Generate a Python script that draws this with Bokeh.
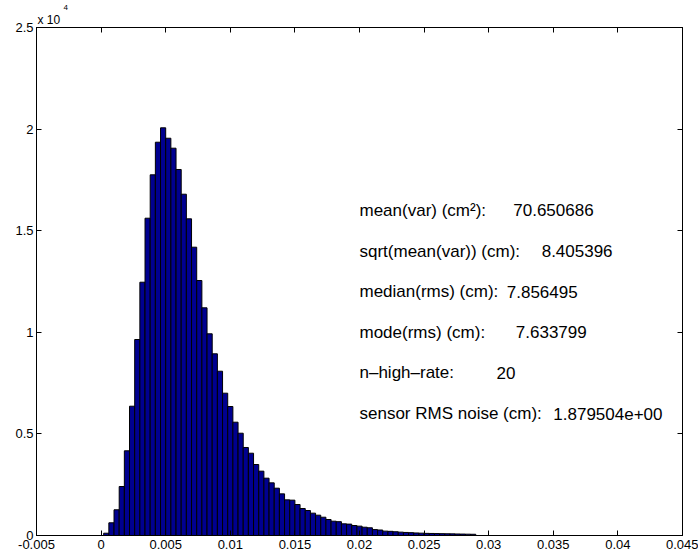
from bokeh.plotting import figure
from bokeh.models import Range1d, LinearAxis, FixedTicker, Label, ColumnDataSource, Title
from bokeh.embed import file_html
from bokeh.resources import INLINE

# ---------------- data ----------------
bin_width = 0.0004
first_center = 0.0004
counts = [
    113, 625, 1265, 2411, 4168, 6363, 9645, 12465, 15615, 17750,
    19355, 20063, 19551, 19060, 18012, 16796, 15585, 14188, 12549, 11205,
    9926, 8942, 8085, 7003, 6348, 5576, 5034, 4331, 4050, 3494,
    3166, 2821, 2592, 2329, 2050, 1755, 1740, 1525, 1329, 1230,
    1099, 1000, 900, 787, 704, 680, 575, 560, 492, 460,
    408, 380, 290, 270, 215, 205, 185, 165, 150, 140,
    125, 115, 105, 100, 95, 90, 85, 80, 75, 70,
    65, 60,
]
bin_centers = [round(first_center + i * bin_width, 6) for i in range(len(counts))]

x_ticks = [-0.005, 0.0, 0.005, 0.01, 0.015, 0.02, 0.025, 0.03, 0.035, 0.04, 0.045]
x_tick_labels = ["-0.005", "0", "0.005", "0.01", "0.015", "0.02", "0.025",
                 "0.03", "0.035", "0.04", "0.045"]
y_ticks = [0, 5000, 10000, 15000, 20000, 25000]
y_tick_labels = ["0", "0.5", "1", "1.5", "2", "2.5"]
y_multiplier_base = "x 10"
y_multiplier_exp = "4"

stat_labels = ["mean(var) (cm\u00b2):", "sqrt(mean(var)) (cm):", "median(rms) (cm):",
               "mode(rms) (cm):", "n\u2013high\u2013rate:", "sensor RMS noise (cm):"]
stat_values = ["70.650686", "8.405396", "7.856495", "7.633799", "20", "1.879504e+00"]
stat_y = [16000, 14000, 12000, 10000, 8000, 6000]
stat_value_x = [0.0319, 0.0341, 0.0314, 0.0321, 0.0306, 0.0350]
stat_label_x = 0.02

FONT = "Liberation Sans"

# ---------------- figure ----------------
p = figure(width=698, height=556, title=None,
           x_range=Range1d(-0.005, 0.045), y_range=Range1d(0, 25000),
           output_backend="svg", toolbar_location=None,
           min_border_left=36, min_border_right=16, min_border_top=27,
           min_border_bottom=21)
p.background_fill_color = "white"
p.border_fill_color = "white"
p.outline_line_color = "black"
p.outline_line_width = 1
p.xgrid.visible = False
p.ygrid.visible = False

src = ColumnDataSource(dict(x=bin_centers, top=counts))
p.vbar(x="x", top="top", bottom=0, width=bin_width, source=src,
       fill_color="#000090", line_color="black", line_width=1)

def style_axis(ax, ticks, labels, show_labels=True, standoff=4):
    ax.ticker = FixedTicker(ticks=ticks)
    ax.major_tick_in = 5
    ax.major_tick_out = 0
    ax.minor_tick_line_color = None
    ax.axis_line_color = "black"
    ax.major_tick_line_color = "black"
    if show_labels:
        ax.major_label_overrides = {t: l for t, l in zip(ticks, labels)}
        ax.major_label_text_font = FONT
        ax.major_label_text_font_size = "13px"
        ax.major_label_text_color = "black"
        ax.major_label_standoff = standoff
    else:
        ax.major_label_text_color = None
        ax.major_label_text_alpha = 0
        ax.major_label_text_font_size = "1px"
        ax.major_label_standoff = 0

style_axis(p.xaxis[0], x_ticks, x_tick_labels, True, 4)
style_axis(p.yaxis[0], y_ticks, y_tick_labels, True, 3)

top_ax = LinearAxis()
style_axis(top_ax, x_ticks, x_tick_labels, False)
p.add_layout(top_ax, "above")
right_ax = LinearAxis()
style_axis(right_ax, y_ticks, y_tick_labels, False)
p.add_layout(right_ax, "right")

# exponent marker "x 10^4" above the y axis (two stacked titles: base, then raised exponent)
p.add_layout(Title(text=y_multiplier_base, align="left", offset=1, standoff=2,
                   text_font=FONT, text_font_size="12px", text_font_style="normal",
                   text_color="black"), "above")
p.add_layout(Title(text=y_multiplier_exp, align="left", offset=27, standoff=0,
                   text_font=FONT, text_font_size="8px", text_font_style="normal",
                   text_color="black"), "above")

# statistics text
for lab, val, yy, vx in zip(stat_labels, stat_values, stat_y, stat_value_x):
    p.add_layout(Label(x=stat_label_x, y=yy, text=lab, text_font=FONT,
                       text_font_size="17px", text_baseline="middle",
                       text_align="left", text_color="black"))
    p.add_layout(Label(x=vx, y=yy, text=val, text_font=FONT,
                       text_font_size="17px", text_baseline="middle",
                       text_align="left", text_color="black"))

open("out.html", "w").write(file_html(p, INLINE))
